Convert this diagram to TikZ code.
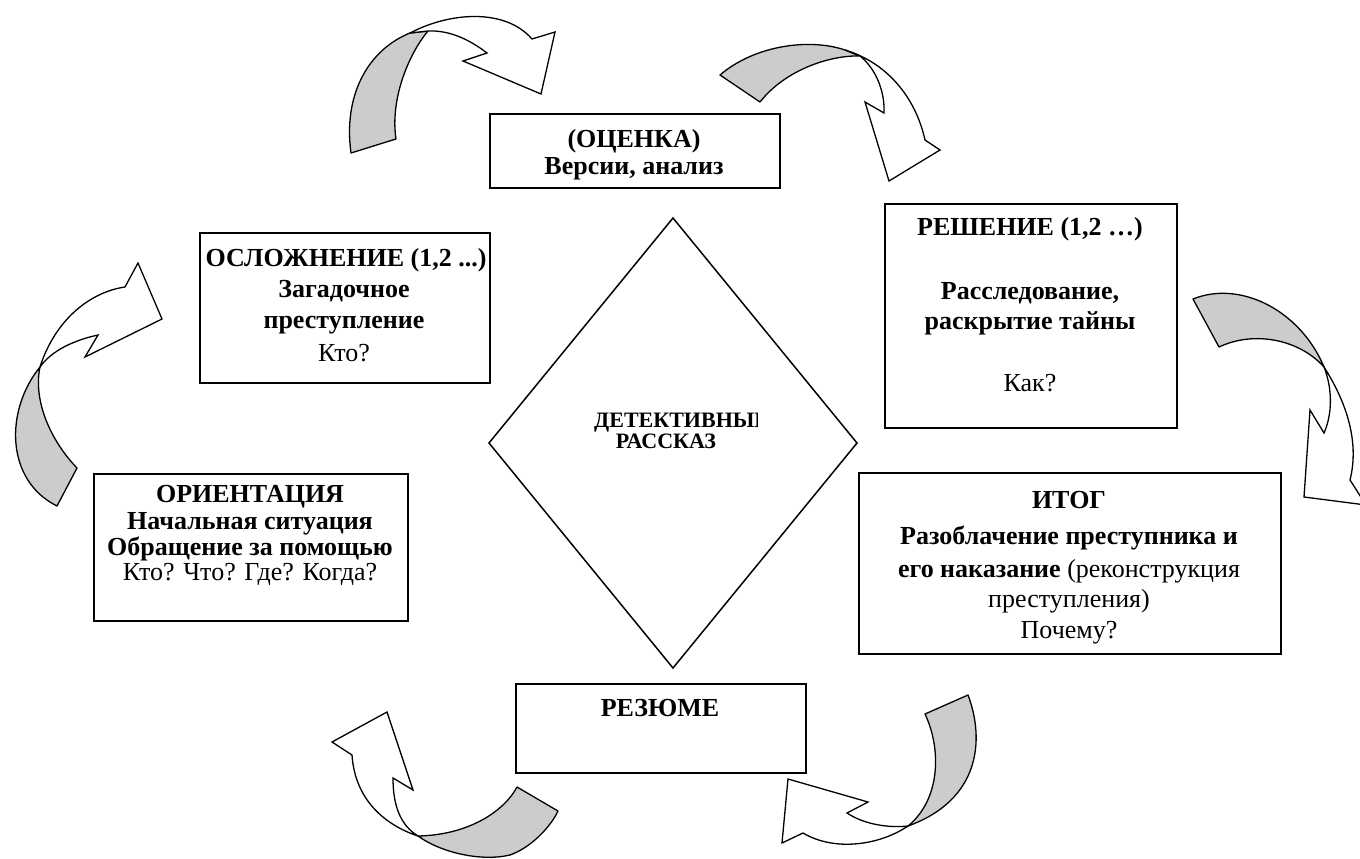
\documentclass[tikz,border=0pt]{standalone}
\usepackage{fontspec}
\setmainfont{Liberation Serif}
\definecolor{ribbongray}{RGB}{204,204,204}
\tikzset{
  boxframe/.style={draw, line width=1.7pt, inner sep=0pt, anchor=north west},
  ribbonback/.style={draw, fill=ribbongray, line width=1.3pt, line join=round},
  ribbonfront/.style={draw, fill=white, line width=1.3pt, line join=miter},
  bl/.style={font=\fontsize{26}{30}\selectfont\bfseries, anchor=base, inner sep=0pt},
  rl/.style={font=\fontsize{26}{30}\selectfont, anchor=base, inner sep=0pt},
  dl/.style={font=\fontsize{22}{25}\selectfont\bfseries, anchor=base, inner sep=0pt},
}
\begin{document}
\begin{tikzpicture}[x=1pt,y=-1pt]
\useasboundingbox (0,0) rectangle (1360,859);
\clip (0,0) rectangle (1360,859);

% boxes
\node[boxframe, minimum width=290pt, minimum height=74pt] (ocenka) at (489,113) {};
\node[boxframe, minimum width=290pt, minimum height=150pt] (oslozh) at (199,232) {};
\node[boxframe, minimum width=292pt, minimum height=224pt] (reshenie) at (884,203) {};
\node[boxframe, minimum width=422pt, minimum height=181pt] (itog) at (858,472) {};
\node[boxframe, minimum width=314pt, minimum height=147pt] (orient) at (93,473) {};
\node[boxframe, minimum width=290pt, minimum height=89pt] (rezyume) at (515,683) {};

% diamond
\coordinate (dtop) at (673,218);
\coordinate (dright) at (857,443);
\coordinate (dbottom) at (673,668);
\coordinate (dleft) at (489,443);
\draw[line width=1.5pt, line join=miter] (dtop) -- (dright) -- (dbottom) -- (dleft) -- cycle;
\begin{scope}
\clip (580,400) rectangle (757,460);
\node[dl, anchor=base west] (det1) at (594,427) {ДЕТЕКТИВНЫЙ};
\end{scope}
\node[dl] (det2) at (666,448) {РАССКАЗ};

% texts
\node[bl] (oc1) at (634,147) {(ОЦЕНКА)};
\node[bl] (oc2) at (634,174) {Версии, анализ};

\node[bl] (os1) at (346,266) {ОСЛОЖНЕНИЕ (1,2 ...)};
\node[bl] (os2) at (344,297) {Загадочное};
\node[bl] (os3) at (344,328) {преступление};
\node[rl] (os4) at (344,361) {Кто?};

\node[bl] (re1) at (1030,235) {РЕШЕНИЕ (1,2 …)};
\node[bl] (re2) at (1030,299) {Расследование,};
\node[bl] (re3) at (1030,329) {раскрытие тайны};
\node[rl] (re4) at (1030,391) {Как?};

\node[bl] (it1) at (1069,508) {ИТОГ};
\node[bl] (it2) at (1069,544) {Разоблачение преступника и};
\node[rl] (it3) at (1069,577) {\textbf{его наказание} (реконструкция};
\node[rl] (it4) at (1069,607) {преступления)};
\node[rl] (it5) at (1069,638) {Почему?};

\node[bl] (or1) at (250,502) {ОРИЕНТАЦИЯ};
\node[bl] (or2) at (250,529) {Начальная ситуация};
\node[bl] (or3) at (250,555) {Обращение за помощью};
\node[rl] (or4) at (250,580) {Кто? Что? Где? Когда?};

\node[bl] (rz1) at (660,716) {РЕЗЮМЕ};

% ribbon arrow 1 (top left)
\path[ribbonback] (351,153) .. controls (343,95) and (368,50) .. (410,33) -- (428,31) .. controls (408,55) and (390,100) .. (396,139) -- cycle;
\path[ribbonfront] (410,33) .. controls (450,12) and (505,8) .. (532,39) -- (555,32) -- (541,94) -- (463,61) -- (487,53) .. controls (470,40) and (450,30) .. (428,31) -- cycle;

% ribbon arrow 2 (top right)
\path[ribbonback] (720,75) .. controls (755,45) and (810,38) .. (845,50) -- (860,56) .. controls (830,55) and (785,70) .. (760,102) -- cycle;
\path[ribbonfront] (845,50) .. controls (885,62) and (915,95) .. (925,140) -- (940,150) -- (889,181) -- (865,102) -- (884,113) .. controls (885,90) and (875,68) .. (860,56) -- cycle;

% ribbon arrow 3 (right)
\path[ribbonback] (1193,299) .. controls (1240,280) and (1300,310) .. (1324,367) .. controls (1300,340) and (1255,330) .. (1219,347) -- cycle;
\path[ribbonfront] (1324,367) .. controls (1345,400) and (1360,440) .. (1350,480) -- (1366,505) -- (1304,497) -- (1310,410) -- (1324,433) .. controls (1332,415) and (1333,390) .. (1324,367) -- cycle;

% ribbon arrow 4 (left)
\path[ribbonback] (40,367) .. controls (5,410) and (5,480) .. (57,506) -- (77,468) .. controls (50,440) and (33,400) .. (40,367) -- cycle;
\path[ribbonfront] (40,367) .. controls (55,320) and (90,292) .. (125,287) -- (138,263) -- (162,319) -- (85,357) -- (98,335) .. controls (75,340) and (52,350) .. (40,367) -- cycle;

% ribbon arrow 5 (bottom left)
\path[ribbonback] (418,836) .. controls (440,852) and (480,862) .. (510,855) .. controls (530,848) and (550,828) .. (558,811) -- (517,787) .. controls (505,810) and (470,835) .. (418,836) -- cycle;
\path[ribbonfront] (418,836) .. controls (385,825) and (355,800) .. (352,755) -- (332,742) -- (387,712) -- (413,790) -- (393,778) .. controls (393,805) and (400,825) .. (418,836) -- cycle;

% ribbon arrow 6 (bottom right)
\path[ribbonback] (925,714) -- (968,695) .. controls (985,740) and (980,800) .. (908,826) .. controls (940,800) and (942,750) .. (925,714) -- cycle;
\path[ribbonfront] (908,826) .. controls (880,845) and (835,852) .. (803,833) -- (782,843) -- (788,779) -- (868,802) -- (847,813) .. controls (865,825) and (890,828) .. (908,826) -- cycle;
\end{tikzpicture}
\end{document}
